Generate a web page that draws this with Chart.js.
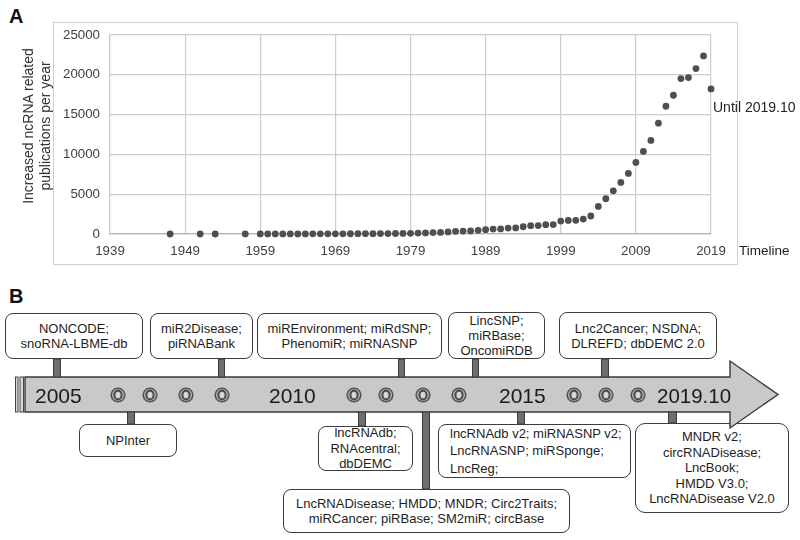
<!DOCTYPE html>
<html><head><meta charset="utf-8">
<script src="https://cdn.jsdelivr.net/npm/chart.js@4.4.1/dist/chart.umd.min.js"></script>
<style>
body{margin:0;background:#fff;}
#wrap{position:relative;width:800px;height:540px;overflow:hidden;font-family:"Liberation Sans",Arial,sans-serif;color:#222;background:#fff;}
.abs{position:absolute;white-space:nowrap;}
.panel{font-weight:bold;font-size:20px;color:#111;line-height:20px;}
.box{position:absolute;box-sizing:border-box;border:1.3px solid #3c3c3c;border-radius:8px;background:#fff;display:flex;flex-direction:column;justify-content:center;align-items:center;text-align:center;font-size:13px;line-height:15px;color:#1e1e1e;z-index:1;white-space:nowrap;}
.yr{position:absolute;font-size:21px;line-height:24px;color:#1a1a1a;z-index:3;white-space:nowrap;}
#frameA{position:absolute;left:53px;top:22px;width:685px;height:243px;box-sizing:border-box;border:1px solid #d0d0d0;}
#chartA{position:absolute;left:0;top:0;z-index:1;}
#svgB{position:absolute;left:0;top:0;z-index:2;}
</style></head>
<body>
<div id="wrap">
  <div class="abs panel" style="left:9px;top:6px;">A</div>
  <div id="frameA"></div>
  <canvas id="chartA" width="800" height="270"></canvas>
  <div class="abs" style="left:-63px;top:109px;width:200px;height:34px;font-size:14px;line-height:17px;text-align:center;color:#333;transform:rotate(-90deg);z-index:2;">Increased ncRNA related<br>publications per year</div>
  <div class="abs" style="left:713px;top:99px;font-size:14px;line-height:16px;color:#222;z-index:2;">Until 2019.10</div>
  <div class="abs" style="left:739px;top:243px;font-size:13.5px;line-height:16px;color:#222;z-index:2;">Timeline</div>

  <div class="abs panel" style="left:9px;top:286px;">B</div>
  <div id="boxes"></div>
  <svg id="svgB" width="800" height="540"></svg>
  <div id="years"></div>
</div>
<script>
// ---------- Data (panel A) ----------
const years = [1947,1951,1953,1957,
  1959,1960,1961,1962,1963,1964,1965,1966,1967,1968,1969,
  1970,1971,1972,1973,1974,1975,1976,1977,1978,1979,
  1980,1981,1982,1983,1984,1985,1986,1987,1988,1989,
  1990,1991,1992,1993,1994,1995,1996,1997,1998,1999,
  2000,2001,2002,2003,2004,2005,2006,2007,2008,2009,
  2010,2011,2012,2013,2014,2015,2016,2017,2018,2019];
const publications = [2,3,2,4,
  6,8,9,11,12,14,15,17,20,22,25,
  28,30,35,38,42,48,55,62,70,80,
  110,130,180,200,260,330,370,390,460,540,
  620,640,750,760,910,1040,1060,1170,1180,1630,
  1710,1720,1880,2260,3470,4430,5430,6480,7610,8990,
  10370,11750,13920,16050,17430,19520,19650,20780,22370,18230];
const xTickLabels = [1939,1949,1959,1969,1979,1989,1999,2009,2019];
const yTickLabels = [0,5000,10000,15000,20000,25000];

const FONT = '"Liberation Sans", Arial, sans-serif';
new Chart(document.getElementById('chartA').getContext('2d'), {
  type: 'scatter',
  data: { datasets: [{
    data: years.map((y, i) => ({ x: y, y: publications[i] })),
    pointRadius: 3.4, pointHoverRadius: 3.4, pointBackgroundColor: '#4f4f4f',
    pointBorderWidth: 0, borderWidth: 0, showLine: false, clip: false
  }]},
  options: {
    responsive: false, animation: false, events: [],
    plugins: { legend: { display: false }, tooltip: { enabled: false } },
    layout: { padding: { left: 0, top: 35, right: 89, bottom: 6 } },
    scales: {
      x: {
        type: 'linear', min: xTickLabels[0], max: xTickLabels[xTickLabels.length - 1],
        afterBuildTicks: s => { s.ticks = xTickLabels.map(v => ({ value: v })); },
        afterFit: s => { s.height = 30; },
        grid: { color: '#cdcdcd', drawTicks: false, lineWidth: 1.2 },
        border: { color: '#b5b5b5', width: 1.2 },
        ticks: { padding: 9, color: '#404040', font: { size: 13.3, family: FONT }, callback: v => String(v), maxRotation: 0, autoSkip: false }
      },
      y: {
        min: yTickLabels[0], max: yTickLabels[yTickLabels.length - 1],
        afterBuildTicks: s => { s.ticks = yTickLabels.map(v => ({ value: v })); },
        afterFit: s => { s.width = 110; },
        grid: { color: '#cdcdcd', drawTicks: false, lineWidth: 1.2 },
        border: { color: '#cdcdcd', width: 1.2 },
        ticks: { padding: 10, color: '#404040', font: { size: 13.3, family: FONT }, callback: v => String(v) }
      }
    }
  }
});

// ---------- Panel B (timeline diagram) ----------
const boxes = [
  { lines: ['NONCODE;', 'snoRNA-LBME-db'], x: 5, y: 313, w: 138, h: 46 },
  { lines: ['miR2Disease;', 'piRNABank'], x: 150, y: 313, w: 103, h: 46 },
  { lines: ['miREnvironment; miRdSNP;', 'PhenomiR; miRNASNP'], x: 257, y: 313, w: 185, h: 46 },
  { lines: ['LincSNP;', 'miRBase;', 'OncomiRDB'], x: 448, y: 312, w: 97, h: 47 },
  { lines: ['Lnc2Cancer; NSDNA;', 'DLREFD; dbDEMC 2.0'], x: 559, y: 312, w: 158, h: 47 },
  { lines: ['NPInter'], x: 79, y: 424, w: 98, h: 33 },
  { lines: ['lncRNAdb;', 'RNAcentral;', 'dbDEMC'], x: 318, y: 426, w: 95, h: 45, lh: 15.5 },
  { lines: ['LncRNADisease; HMDD; MNDR; Circ2Traits;', 'miRCancer; piRBase; SM2miR; circBase'], x: 283, y: 489, w: 287, h: 44 },
  { lines: ['lncRNAdb v2; miRNASNP v2;', 'LncRNASNP; miRSponge;', 'LncReg;'], x: 438, y: 424, w: 193, h: 54, lh: 17.5, left: true },
  { lines: ['MNDR v2;', 'circRNADisease;', 'LncBook;', 'HMDD V3.0;', 'LncRNADisease V2.0'], x: 635, y: 423, w: 154, h: 90, lh: 15.5, r: 10 }
];
const connectors = [
  { x: 53, y: 359, w: 8, h: 18 }, { x: 218, y: 359, w: 7, h: 18 }, { x: 398, y: 359, w: 7, h: 18 },
  { x: 472, y: 359, w: 7, h: 18 }, { x: 601, y: 359, w: 8, h: 18 },
  { x: 127, y: 412, w: 8, h: 12 }, { x: 358, y: 412, w: 8, h: 14 }, { x: 422, y: 412, w: 8, h: 77 },
  { x: 517, y: 412, w: 8, h: 12 }, { x: 668, y: 412, w: 9, h: 11 }
];
const rings = [118, 150, 186, 222, 354, 386, 423, 459, 574, 606, 638];
const yearLabels = [{ t: '2005', x: 35 }, { t: '2010', x: 269 }, { t: '2015', x: 499 }, { t: '2019.10', x: 657, s: 20.5 }];

const bx = document.getElementById('boxes');
boxes.forEach(b => {
  const d = document.createElement('div');
  d.className = 'box';
  d.style.left = b.x + 'px'; d.style.top = b.y + 'px';
  d.style.width = b.w + 'px'; d.style.height = b.h + 'px';
  if (b.lh) d.style.lineHeight = b.lh + 'px';
  if (b.r) d.style.borderRadius = b.r + 'px';
  if (b.left) { d.style.alignItems = 'flex-start'; d.style.textAlign = 'left'; d.style.paddingLeft = '11px'; }
  b.lines.forEach(l => { const s = document.createElement('div'); s.textContent = l; d.appendChild(s); });
  bx.appendChild(d);
});

const NS = 'http://www.w3.org/2000/svg';
const svg = document.getElementById('svgB');
function el(tag, attrs) { const e = document.createElementNS(NS, tag); for (const k in attrs) e.setAttribute(k, attrs[k]); svg.appendChild(e); return e; }
// tail strips
el('rect', { x: 15.5, y: 377, width: 2.5, height: 35, fill: '#d8d8d8', stroke: '#444', 'stroke-width': 1 });
el('rect', { x: 20, y: 377, width: 3.5, height: 35, fill: '#d8d8d8', stroke: '#444', 'stroke-width': 1 });
// arrow band
el('polygon', { points: '25,377 730,377 730,361 778,394.5 730,428 730,412 25,412', fill: '#c9c9c9', stroke: '#3a3a3a', 'stroke-width': 1.4, 'stroke-linejoin': 'miter' });
connectors.forEach(c => el('rect', { x: c.x + 0.5, y: c.y, width: c.w - 1, height: c.h, fill: '#6e6e6e', stroke: '#3a3a3a', 'stroke-width': 1 }));
rings.forEach(cx => {
  el('circle', { cx: cx, cy: 395, r: 7.6, fill: '#555555' });
  el('circle', { cx: cx, cy: 395, r: 6.0, fill: '#b8b8b8' });
  el('ellipse', { cx: cx, cy: 395, rx: 3.6, ry: 4.4, fill: '#d6d6d6', stroke: '#4d4d4d', 'stroke-width': 2.1 });
});

const yw = document.getElementById('years');
yearLabels.forEach(y => {
  const d = document.createElement('div');
  d.className = 'yr'; d.textContent = y.t;
  d.style.left = y.x + 'px'; d.style.top = '384px';
  if (y.s) d.style.fontSize = y.s + 'px';
  yw.appendChild(d);
});
</script>
</body></html>
